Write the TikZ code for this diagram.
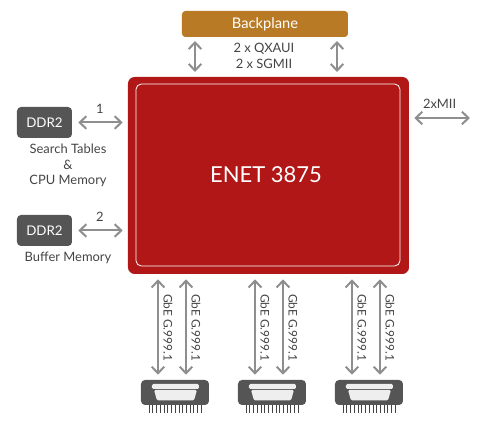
\documentclass[tikz,border=0pt]{standalone}
\usepackage{fontspec}
\setmainfont{Lato}
\usepackage{xcolor}
\usetikzlibrary{arrows.meta,positioning}
\definecolor{chipred}{HTML}{B01716}
\definecolor{backgold}{HTML}{B87A24}
\definecolor{ddrgrey}{HTML}{555555}
\definecolor{arrgrey}{HTML}{8E8E8E}
\definecolor{txtgrey}{HTML}{444444}
\definecolor{portfill}{HTML}{EEEEEE}

\begin{document}
\begin{tikzpicture}[
  x=0.75pt, y=-0.75pt,
  font=\fontsize{9.7}{11.7}\selectfont,
  every node/.style={text=txtgrey},
  chip/.style={fill=chipred, rounded corners=5pt, minimum width=210.75pt,
               minimum height=147.75pt, inner sep=0pt},
  chipin/.style={draw=white, line width=0.6pt, rounded corners=4pt, inner sep=0pt,
                 minimum width=198pt, minimum height=136.5pt},
  back/.style={fill=backgold, rounded corners=2.5pt, minimum width=124.5pt,
               minimum height=19.5pt, inner sep=0pt, text=white,
               font=\fontsize{11}{13}\selectfont},
  ddr/.style={fill=ddrgrey, rounded corners=3pt, minimum width=41.25pt,
              minimum height=23.25pt, inner sep=0pt, text=white,
              font=\fontsize{10}{12}\selectfont},
  port/.style={fill=ddrgrey, rounded corners=3pt, minimum width=51pt,
               minimum height=18.75pt, inner sep=0pt},
  lbl/.style={align=center, inner sep=0pt},
  gbe/.style={rotate=-90, anchor=west, inner sep=0pt, font=\fontsize{8.9}{11}\selectfont},
  arr/.style={{Straight Barb[length=5pt,width=9.5pt]}-{Straight Barb[length=5pt,width=9.5pt]},
              arrgrey, line width=1.5pt}
]
\useasboundingbox (0,0) rectangle (480,423);

\node[chip] (enet) at (268.5,175.5) {};
\node[chipin] (core) at (268,175) {};
\node[text=white, font=\fontsize{16.5}{20}\selectfont, inner sep=0pt] (title) at (266,175) {ENET 3875};
\node[back] (backplane) at (265,24) {Backplane};
\node[ddr] (ddra) at (44.5,122.5) {DDR2};
\node[ddr] (ddrb) at (44.5,230.5) {DDR2};
\node[lbl] (tables) at (68,165.5) {Search Tables\\\&\\CPU Memory};
\node[lbl] (buffer) at (68,258) {Buffer Memory};
\node[lbl, font=\fontsize{9.7}{12}\selectfont] (uplink) at (264,56) {2 x QXAUI\\2 x SGMII};
\coordinate (mii) at (470,118);
\coordinate (upl) at (195,37);
\coordinate (upr) at (337,37);
\coordinate (dnl) at (195,77);
\coordinate (dnr) at (337,77);

% connectors on the two sides
\draw[arr, shorten <=3pt, shorten >=3.75pt] (upl) -- (dnl);
\draw[arr, shorten <=3pt, shorten >=3.75pt] (upr) -- (dnr);
\draw[arr, shorten <=4.5pt, shorten >=3.75pt] (ddra.east) -- (ddra.east -| enet.west) node[midway, above=6pt, inner sep=0pt] {1};
\draw[arr, shorten <=4.5pt, shorten >=3.75pt] (ddrb.east) -- (ddrb.east -| enet.west) node[midway, above=6pt, inner sep=0pt] {2};
\draw[arr, shorten <=3.75pt] (mii -| enet.east) -- (mii) node[midway, above=6pt, inner sep=0pt] {2xMII};

% gigabit ports along the bottom
\foreach \n/\x in {a/175, b/272, c/369} {
  \node[port] (port\n) at (\x,392.5) {};
  \fill[portfill, rounded corners=1pt] (\x-23,384) rectangle (\x+24,389);
  \fill[portfill, rounded corners=1pt] (\x-21,390) -- (\x+22,390) -- (\x+19,400.5) -- (\x-18,400.5) -- cycle;
  \foreach \p in {0,...,14}
    \draw[txtgrey, line width=0.35pt] (\x-26+\p*3.72,405) -- (\x-26+\p*3.72,413);
  \coordinate (tl\n) at (\x-17,274);
  \coordinate (tr\n) at (\x+11,274);
  \draw[arr, shorten <=4pt, shorten >=3.75pt] (tl\n) -- (tl\n |- port\n.north);
  \draw[arr, shorten <=4pt, shorten >=3.75pt] (tr\n) -- (tr\n |- port\n.north);
  \node[gbe] (gbe\n l) at (\x-7,294) {GbE G.999.1};
  \node[gbe] (gbe\n r) at (\x+21,294) {GbE G.999.1};
}
\end{tikzpicture}
\end{document}
